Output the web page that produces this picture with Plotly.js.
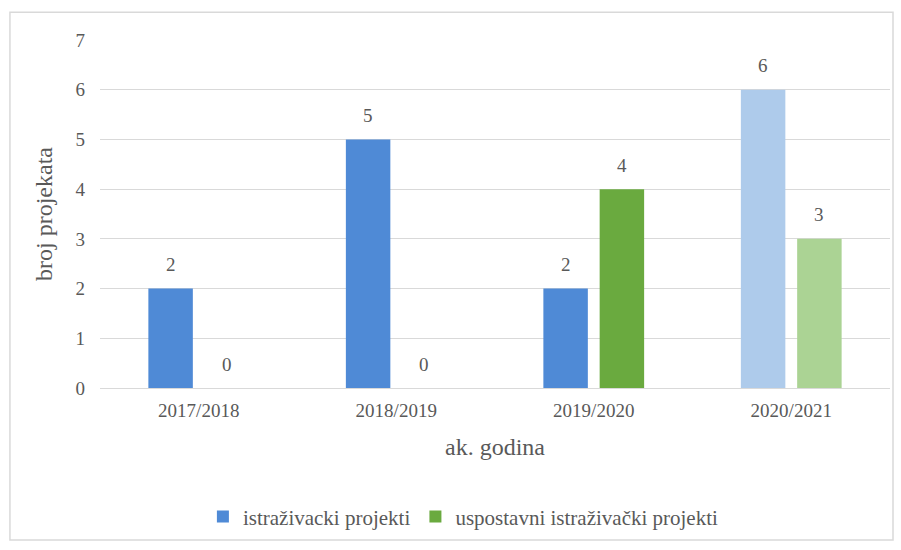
<!DOCTYPE html>
<html><head><meta charset="utf-8">
<script src="https://cdn.plot.ly/plotly-3.0.1.min.js"></script>
<style>body{margin:0;background:#fff}#c{width:901px;height:550px}</style>
</head><body><div id="c"></div>
<script>
const categories = ["2017/2018", "2018/2019", "2019/2020", "2020/2021"];
const istrazivacki = [2, 5, 2, 6];
const uspostavni = [0, 0, 4, 3];
const seriesNames = ["istraživacki projekti", "uspostavni istraživački projekti"];
const blueColors = ["#4f8ad6", "#4f8ad6", "#4f8ad6", "#aecbeb"];
const greenColors = ["#6aaa3f", "#6aaa3f", "#6aaa3f", "#abd394"];

const fontFam = "Liberation Serif";
const grey = "#595959";

const traces = [
  {type: "bar", x: categories, y: istrazivacki, name: seriesNames[0],
   marker: {color: blueColors}, hoverinfo: "none"},
  {type: "bar", x: categories, y: uspostavni, name: seriesNames[1],
   marker: {color: greenColors}, hoverinfo: "none"}
];

const annotations = [];
categories.forEach((c, i) => {
  annotations.push({x: c, y: istrazivacki[i], xref: "x", yref: "y", text: String(istrazivacki[i]),
    showarrow: false, xshift: -28, yshift: 24, font: {family: fontFam, size: 19, color: grey}});
  annotations.push({x: c, y: uspostavni[i], xref: "x", yref: "y", text: String(uspostavni[i]),
    showarrow: false, xshift: 28, yshift: 24, font: {family: fontFam, size: 19, color: grey}});
});

const layout = {
  width: 901, height: 550,
  margin: {l: 100, r: 11, t: 40, b: 162},
  paper_bgcolor: "#fff", plot_bgcolor: "#fff",
  font: {family: fontFam, color: grey, size: 19},
  barmode: "group", bargap: 0.43, bargroupgap: 0.21,
  xaxis: {type: "category", tickfont: {family: fontFam, size: 19, color: grey}, showgrid: false,
    showline: true, linecolor: "#d9d9d9", ticks: "", ticklabelstandoff: 5,
    title: {text: "ak. godina", font: {family: fontFam, size: 24, color: grey}, standoff: 18}},
  yaxis: {range: [0, 7], dtick: 1, tickfont: {family: fontFam, size: 19, color: grey}, gridcolor: "#d9d9d9",
    zeroline: false, showline: false, ticks: "", ticklabelstandoff: 14,
    title: {text: "broj projekata", font: {family: fontFam, size: 24, color: grey}, standoff: 16}},
  legend: {orientation: "h", x: 0.46, xanchor: "center", y: -0.37, yanchor: "middle",
    font: {family: fontFam, size: 21, color: grey}, itemwidth: 30},
  annotations: annotations,
  shapes: [{type: "rect", xref: "paper", yref: "paper", x0: -0.114, x1: 1.0038, y0: -0.437, y1: 1.08,
    line: {color: "#d9d9d9", width: 1.5}, fillcolor: "rgba(0,0,0,0)", layer: "below"}],
  showlegend: true
};
Plotly.newPlot("c", traces, layout, {displayModeBar: false, staticPlot: true});
</script></body></html>
